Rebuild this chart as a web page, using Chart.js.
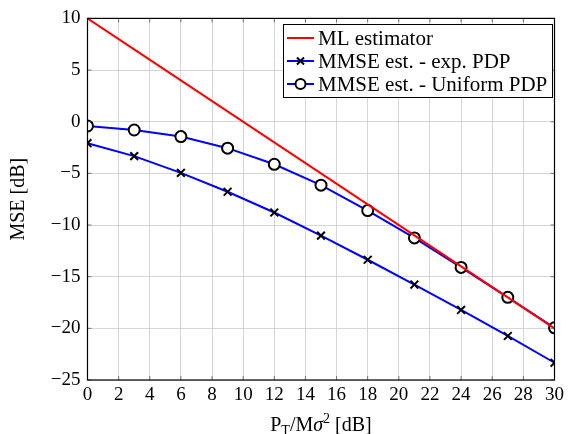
<!DOCTYPE html>
<html><head><meta charset="utf-8">
<script src="https://cdn.jsdelivr.net/npm/chart.js@4/dist/chart.umd.min.js"></script>
<style>html,body{margin:0;padding:0;background:#fff}#wrap{width:568px;height:434px}</style>
</head><body><div id="wrap"><canvas id="c" width="568" height="434"></canvas></div>
<script>
const xValues = [0,3,6,9,12,15,18,21,24,27,30];
const mlEstimator = [10,7,4,1,-2,-5,-8,-11,-14,-17,-20];
const mmseExp = [-2.08,-3.33,-4.95,-6.78,-8.79,-11.03,-13.36,-15.76,-18.22,-20.74,-23.33];
const mmseUniform = [-0.41,-0.8,-1.44,-2.56,-4.12,-6.14,-8.6,-11.25,-14.1,-17.0,-19.95];
const xTicks = [0,2,4,6,8,10,12,14,16,18,20,22,24,26,28,30];
const yTicks = [-25,-20,-15,-10,-5,0,5,10];
const seriesLabels = ['ML estimator','MMSE est. - exp. PDP','MMSE est. - Uniform PDP'];

const FONT = '"Liberation Serif", "DejaVu Serif", serif';
const pts = arr => xValues.map((x,i)=>({x:x,y:arr[i]}));

const extras = {
  id:'extras',
  afterDraw(chart){
    const ctx = chart.ctx, a = chart.chartArea, xs = chart.scales.x, ys = chart.scales.y;
    ctx.save();
    // inward ticks
    ctx.strokeStyle = '#555'; ctx.lineWidth = 0.8;
    ctx.beginPath();
    xTicks.forEach(v=>{const p=xs.getPixelForValue(v); ctx.moveTo(p,a.bottom); ctx.lineTo(p,a.bottom-4); ctx.moveTo(p,a.top); ctx.lineTo(p,a.top+4);});
    yTicks.forEach(v=>{const p=ys.getPixelForValue(v); ctx.moveTo(a.left,p); ctx.lineTo(a.left+4,p); ctx.moveTo(a.right,p); ctx.lineTo(a.right-4,p);});
    ctx.stroke();
    // border
    ctx.strokeStyle = '#000'; ctx.lineWidth = 1.2; ctx.strokeRect(a.left, a.top, a.right-a.left, a.bottom-a.top);
    // legend
    const lx = 283, ly = 24, lw = 269, lh = 73;
    ctx.fillStyle = '#fff'; ctx.fillRect(lx,ly,lw,lh);
    ctx.strokeStyle = '#000'; ctx.lineWidth = 1; ctx.strokeRect(lx+0.5,ly+0.5,lw,lh);
    ctx.font = '21px ' + FONT; ctx.textBaseline = 'middle'; ctx.textAlign = 'left';
    chart.data.datasets.forEach((ds,i)=>{
      const yy = ly + 14 + i*23;
      ctx.strokeStyle = ds.borderColor; ctx.lineWidth = 2;
      ctx.beginPath(); ctx.moveTo(lx+4,yy); ctx.lineTo(lx+31,yy); ctx.stroke();
      const cx = lx+17.5;
      if (ds.pointStyle === 'crossRot') {
        ctx.strokeStyle='#000'; ctx.lineWidth=2; ctx.beginPath();
        ctx.moveTo(cx-3.5,yy-3.5); ctx.lineTo(cx+3.5,yy+3.5); ctx.moveTo(cx-3.5,yy+3.5); ctx.lineTo(cx+3.5,yy-3.5); ctx.stroke();
      } else if (ds.pointStyle === 'circle' && ds.pointRadius>0) {
        ctx.fillStyle='#fff'; ctx.strokeStyle='#000'; ctx.lineWidth=2;
        ctx.beginPath(); ctx.arc(cx,yy,5,0,Math.PI*2); ctx.fill(); ctx.stroke();
      }
      ctx.fillStyle='#000'; ctx.fillText(ds.label, lx+35, yy+1);
    });
    // x-axis title with sub/superscript
    const base = 431;
    const parts = [
      {t:'P', f:'20px '+FONT, dy:0},
      {t:'T', f:'14px '+FONT, dy:4},
      {t:'/M', f:'20px '+FONT, dy:0},
      {t:'σ', f:'italic 20px '+FONT, dy:0},
      {t:'2', f:'14px '+FONT, dy:-8},
      {t:' [dB]', f:'20px '+FONT, dy:0}
    ];
    let total = 0;
    parts.forEach(p=>{ctx.font=p.f; p.w=ctx.measureText(p.t).width; total+=p.w;});
    let x = (a.left+a.right)/2 - total/2;
    ctx.fillStyle='#000'; ctx.textBaseline='alphabetic';
    parts.forEach(p=>{ctx.font=p.f; ctx.fillText(p.t,x,base+p.dy); x+=p.w;});
    ctx.restore();
  }
};

new Chart(document.getElementById('c'), {
  type:'line',
  data:{datasets:[
    {label:seriesLabels[0], data:pts(mlEstimator), borderColor:'#ff0000', borderWidth:2, pointRadius:0, pointStyle:'circle', fill:false},
    {label:seriesLabels[1], data:pts(mmseExp), borderColor:'#0000ff', borderWidth:2, pointStyle:'crossRot', pointRadius:5.5, pointBorderColor:'#000', pointBackgroundColor:'#000', pointBorderWidth:2, fill:false},
    {label:seriesLabels[2], data:pts(mmseUniform), borderColor:'#0000ff', borderWidth:2, pointStyle:'circle', pointRadius:5.5, pointBorderColor:'#000', pointBackgroundColor:'#fff', pointBorderWidth:2, fill:false}
  ]},
  options:{
    responsive:false, animation:false, devicePixelRatio:1,
    layout:{padding:{left:0,right:11,top:16,bottom:0}},
    plugins:{legend:{display:false}, tooltip:{enabled:false}},
    scales:{
      x:{type:'linear', min:0, max:30,
        afterBuildTicks:s=>{s.ticks = xTicks.map(v=>({value:v}));},
        afterFit:s=>{s.height=54;},
        grid:{color:'#d6d6d6', lineWidth:1, drawTicks:false},
        border:{display:false},
        ticks:{color:'#000', font:{family:FONT, size:19}, padding:4, maxRotation:0, autoSkip:false}
      },
      y:{type:'linear', min:-25, max:10,
        afterBuildTicks:s=>{s.ticks = yTicks.map(v=>({value:v}));},
        afterFit:s=>{s.width=87.5;},
        grid:{color:'#d6d6d6', lineWidth:1, drawTicks:false},
        border:{display:false},
        title:{display:true, text:'MSE [dB]', color:'#000', font:{family:FONT, size:20}, padding:{top:7,bottom:0}},
        ticks:{color:'#000', font:{family:FONT, size:19}, padding:7, callback:v=> v<0 ? '\u2212'+Math.abs(v) : ''+v}
      }
    }
  },
  plugins:[extras]
});
</script></body></html>
